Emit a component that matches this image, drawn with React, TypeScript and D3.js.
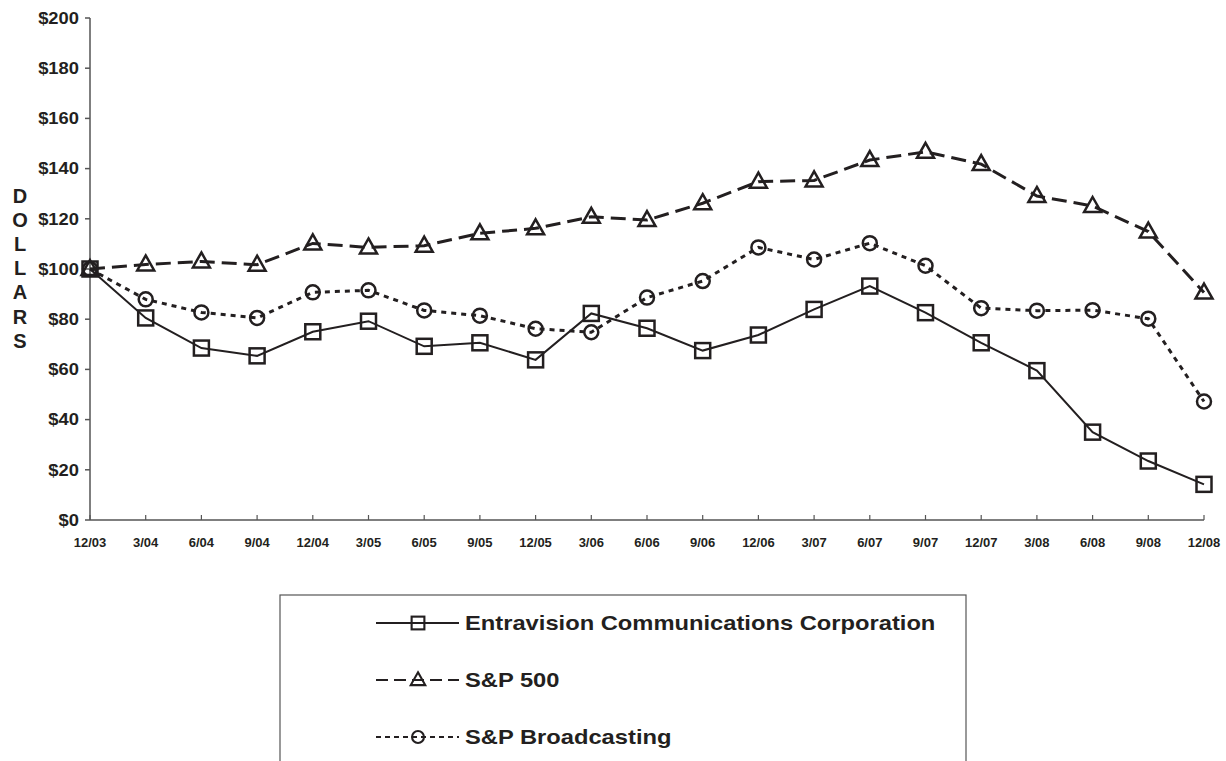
import { useMemo } from 'react'
import * as d3 from 'd3'

// quarter-end dates, Dec 2003 to Dec 2008
const periods = [
  '12/03', '3/04', '6/04', '9/04', '12/04', '3/05', '6/05', '9/05', '12/05', '3/06', '6/06',
  '9/06', '12/06', '3/07', '6/07', '9/07', '12/07', '3/08', '6/08', '9/08', '12/08',
]

const entravision = [
  100, 80.5, 68.5, 65.4, 75, 79.2, 69.2, 70.6, 63.8, 82.3, 76.4,
  67.5, 73.7, 83.9, 93.2, 82.6, 70.6, 59.5, 35, 23.5, 14.2,
]
const sp500 = [
  100, 101.8, 103, 101.7, 110.2, 108.6, 109.3, 114.2, 116.2, 120.8, 119.5,
  126.2, 134.8, 135.3, 143.4, 146.7, 141.8, 129.1, 125.1, 114.9, 90.6,
]
const spBroadcasting = [
  100, 87.9, 82.7, 80.5, 90.7, 91.5, 83.5, 81.4, 76.2, 74.8, 88.6,
  95.2, 108.6, 103.8, 110.3, 101.3, 84.4, 83.4, 83.6, 80.2, 47.2,
]

const yTicks = [0, 20, 40, 60, 80, 100, 120, 140, 160, 180, 200]

const INK = '#231f20'
const FONT = '"Liberation Sans", Arial, Helvetica, sans-serif'

type Marker = 'square' | 'triangle' | 'circle'

type Series = {
  name: string
  values: number[]
  marker: Marker
  dash: string
  width: number
}

const series: Series[] = [
  { name: 'S&P Broadcasting', values: spBroadcasting, marker: 'circle', dash: '5,5', width: 3 },
  { name: 'S&P 500', values: sp500, marker: 'triangle', dash: '15,7', width: 3 },
  { name: 'Entravision Communications Corporation', values: entravision, marker: 'square', dash: '', width: 2 },
]

const legendOrder = [series[2], series[1], series[0]]

function MarkerShape({ kind, x, y, k = 1 }: { kind: Marker; x: number; y: number; k?: number }) {
  if (kind === 'square') {
    const s = 15 * k
    return <rect x={x - s / 2} y={y - s / 2} width={s} height={s} fill="none" stroke={INK} strokeWidth={2.5 * k} />
  }
  if (kind === 'circle') {
    return <circle cx={x} cy={y} r={7 * k} fill="none" stroke={INK} strokeWidth={2.5 * k} />
  }
  // triangle, centred so the line crosses its lower part
  const h = 15 * k
  const w = 17 * k
  const top = y - h * 0.6
  const bottom = y + h * 0.4
  return (
    <path
      d={`M${x},${top}L${x + w / 2},${bottom}L${x - w / 2},${bottom}Z`}
      fill="none"
      stroke={INK}
      strokeWidth={2.5 * k}
    />
  )
}

export default function App() {
  const width = 1226
  const height = 761

  const { x, y } = useMemo(() => {
    const x = d3.scalePoint<string>().domain(periods).range([90, 1204])
    const y = d3.scaleLinear().domain([0, 200]).range([520, 18])
    return { x, y }
  }, [])

  const line = (vals: number[]) =>
    d3
      .line<number>()
      .x((_, i) => x(periods[i]) ?? 0)
      .y((v) => y(v))(vals) ?? ''

  const letters = 'DOLLARS'.split('')

  return (
    <svg
      width={width}
      height={height}
      style={{ position: 'absolute', left: 0, top: 0, background: '#fff' }}
      fontFamily={FONT}
    >
      {/* axes */}
      <line x1={90} x2={90} y1={y(200)} y2={y(0)} stroke="#555" strokeWidth={1.5} />
      <line x1={90} x2={1204} y1={y(0)} y2={y(0)} stroke="#555" strokeWidth={1.5} />

      {yTicks.map((t) => (
        <g key={t}>
          <line x1={85} x2={90} y1={y(t)} y2={y(t)} stroke="#555" strokeWidth={1.5} />
          <text
            transform={`translate(79,${y(t)}) scale(1.08,1)`}
            textAnchor="end"
            dominantBaseline="central"
            fontSize={17}
            fontWeight="bold"
            fill={INK}
          >
            {`$${t}`}
          </text>
        </g>
      ))}

      {periods.map((p) => (
        <g key={p}>
          <line x1={x(p)} x2={x(p)} y1={y(0) - 5} y2={y(0)} stroke="#555" strokeWidth={1.2} />
          <text
            x={x(p)}
            y={y(0) + 22}
            textAnchor="middle"
            dominantBaseline="central"
            fontSize={13}
            fontWeight="bold"
            fill={INK}
          >
            {p}
          </text>
        </g>
      ))}

      {/* stacked axis title */}
      {letters.map((ch, i) => (
        <text
          key={i}
          x={20}
          y={196 + i * 24.1}
          textAnchor="middle"
          dominantBaseline="central"
          fontSize={20}
          fontWeight="bold"
          fill={INK}
        >
          {ch}
        </text>
      ))}

      {/* series */}
      {series.map((s) => (
        <g key={s.name}>
          <path
            d={line(s.values)}
            fill="none"
            stroke={INK}
            strokeWidth={s.width}
            strokeDasharray={s.dash || undefined}
          />
          {s.values.map((v, i) => (
            <MarkerShape key={i} kind={s.marker} x={x(periods[i]) ?? 0} y={y(v)} />
          ))}
        </g>
      ))}

      {/* legend */}
      <rect x={280} y={595} width={686} height={200} fill="none" stroke="#555" strokeWidth={1.2} />
      {legendOrder.map((s, i) => {
        const ly = 623 + i * 57
        return (
          <g key={s.name}>
            <line
              x1={376}
              x2={459}
              y1={ly}
              y2={ly}
              stroke={INK}
              strokeWidth={2}
              strokeDasharray={s.dash ? (s.marker === 'triangle' ? '12,6' : '5,4') : undefined}
            />
            <MarkerShape kind={s.marker} x={418} y={ly} k={0.85} />
            <text
              transform={`translate(465,${ly}) scale(1.13,1)`}
              dominantBaseline="central"
              fontSize={21}
              fontWeight="bold"
              fill={INK}
            >
              {s.name}
            </text>
          </g>
        )
      })}
    </svg>
  )
}
